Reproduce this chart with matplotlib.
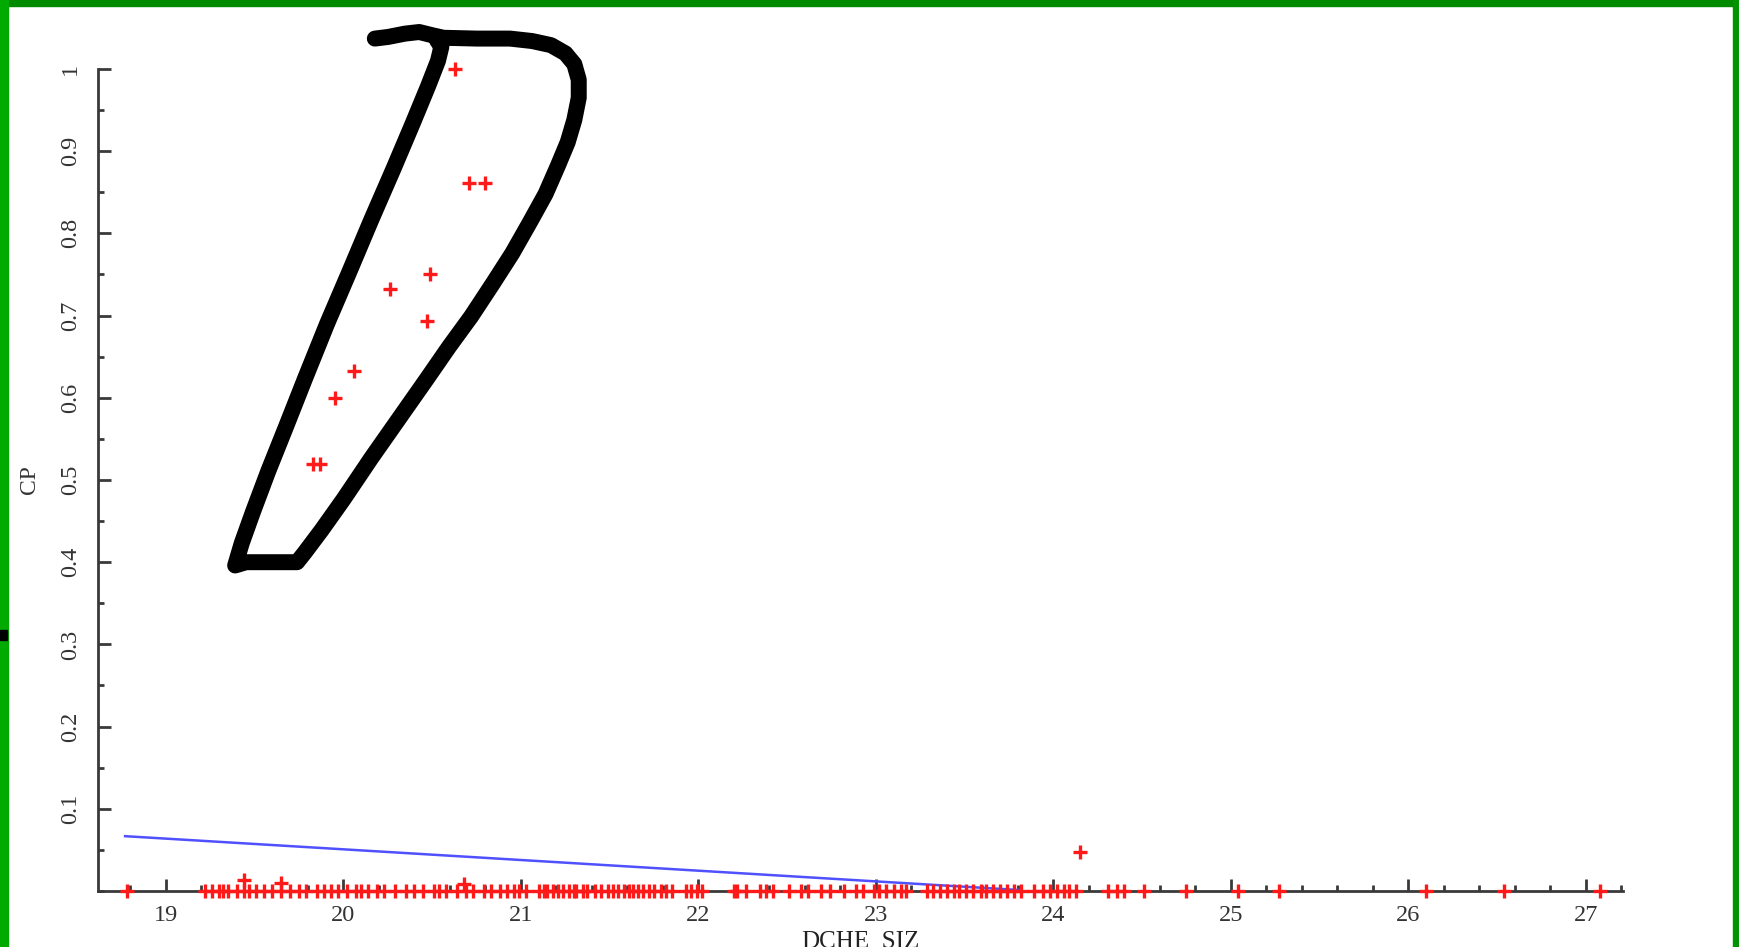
import matplotlib.pyplot as plt
from matplotlib.patches import Rectangle
from matplotlib.ticker import FixedLocator, MultipleLocator

# ---- data ----
# points sitting on CP = 0
zero_x = [18.78, 19.22, 19.26, 19.30, 19.32, 19.35, 19.40, 19.44, 19.47, 19.51,
          19.55, 19.60, 19.65, 19.70, 19.75, 19.79, 19.85, 19.89, 19.93, 19.97,
          20.02, 20.07, 20.10, 20.14, 20.19, 20.23, 20.29, 20.35, 20.40, 20.45,
          20.51, 20.54, 20.58, 20.64, 20.69, 20.73, 20.79, 20.83, 20.88, 20.92,
          20.96, 20.99, 21.03, 21.10, 21.13, 21.15, 21.18, 21.21, 21.24, 21.27,
          21.30, 21.31, 21.35, 21.37, 21.42, 21.45, 21.49, 21.52, 21.55, 21.58,
          21.61, 21.63, 21.66, 21.69, 21.72, 21.75, 21.79, 21.82, 21.85, 21.93,
          21.96, 21.99, 22.02, 22.20, 22.22, 22.27, 22.35, 22.38, 22.42, 22.51,
          22.58, 22.62, 22.69, 22.74, 22.82, 22.89, 22.93, 22.99, 23.02, 23.06,
          23.10, 23.14, 23.17, 23.29, 23.32, 23.36, 23.40, 23.44, 23.47, 23.51,
          23.55, 23.59, 23.62, 23.66, 23.70, 23.74, 23.78, 23.82, 23.89, 23.94,
          23.98, 24.02, 24.06, 24.09, 24.13, 24.31, 24.36, 24.40, 24.51, 24.75,
          25.04, 25.27, 26.10, 26.54, 27.08]
zero_y = [0.0] * len(zero_x)

# points above zero
hi_x = [20.63, 20.71, 20.80, 20.49, 20.26, 20.47, 20.06, 19.95, 19.83, 19.87,
        24.15, 19.44, 19.65, 20.68]
hi_y = [1.0, 0.861, 0.861, 0.751, 0.732, 0.694, 0.632, 0.600, 0.520, 0.520,
        0.048, 0.013, 0.010, 0.008]

# fitted (blue) line
fit_x = [18.77, 23.80]
fit_y = [0.0667, 0.0013]

# hand drawn loop around the high points (data coords)
loop_x = [20.177, 20.252, 20.346, 20.427, 20.502, 20.564, 20.752, 20.939, 21.064,
          21.170, 21.251, 21.301, 21.326, 21.326, 21.301, 21.264, 21.208, 21.139,
          21.052, 20.952, 20.845, 20.720, 20.595, 20.470, 20.314, 20.158, 20.002,
          19.877, 19.783, 19.739, 19.596, 19.452, 19.390, 19.427, 19.490, 19.577,
          19.677, 19.783, 19.908, 20.033, 20.158, 20.283, 20.389, 20.477, 20.533,
          20.552, 20.527]
loop_y = [1.037, 1.039, 1.043, 1.045, 1.041, 1.038, 1.037, 1.037, 1.034,
          1.029, 1.019, 1.006, 0.987, 0.965, 0.938, 0.911, 0.882, 0.848,
          0.814, 0.776, 0.740, 0.699, 0.662, 0.623, 0.575, 0.527, 0.477,
          0.439, 0.412, 0.400, 0.400, 0.400, 0.396, 0.423, 0.461, 0.511,
          0.565, 0.623, 0.690, 0.753, 0.817, 0.879, 0.933, 0.979, 1.010,
          1.027, 1.035]

x_major = [19, 20, 21, 22, 23, 24, 25, 26, 27]
y_major = [0.1, 0.2, 0.3, 0.4, 0.5, 0.6, 0.7, 0.8, 0.9, 1.0]
y_labels = ["0.1", "0.2", "0.3", "0.4", "0.5", "0.6", "0.7", "0.8", "0.9", "1"]

plt.rcParams['font.family'] = ['Liberation Serif', 'DejaVu Serif']

W, H = 1739, 947
fig = plt.figure(figsize=(W / 100, H / 100), dpi=100)
fig.patch.set_facecolor('white')

ax = fig.add_axes([97.6 / W, 56 / H, (1623 - 97.6) / W, 822 / H])
ax.set_xlim(18.615, 27.21)
ax.set_ylim(0, 1)

axis_col = '#3a3a3a'
for side in ['top', 'right']:
    ax.spines[side].set_visible(False)
for side in ['left', 'bottom']:
    ax.spines[side].set_color(axis_col)
    ax.spines[side].set_linewidth(2.0)

ax.xaxis.set_major_locator(FixedLocator(x_major))
ax.xaxis.set_minor_locator(MultipleLocator(0.2))
ax.yaxis.set_major_locator(FixedLocator(y_major))
ax.yaxis.set_minor_locator(MultipleLocator(0.05))
ax.set_yticklabels(y_labels, rotation=90, va='center')

ax.tick_params(which='major', direction='in', length=9, width=2, color=axis_col,
               labelsize=17.5, labelcolor='#333333')
ax.tick_params(which='minor', direction='in', length=4, width=2, color=axis_col)
ax.tick_params(axis='x', pad=10)
ax.tick_params(axis='y', pad=12)

ax.plot(fit_x, fit_y, color='#5050ff', linewidth=1.8, zorder=3)

ax.plot(zero_x, zero_y, linestyle='none', marker='+', markersize=10,
        markeredgewidth=2.4, color='#ff1a1a', clip_on=False, zorder=5)
ax.plot(hi_x, hi_y, linestyle='none', marker='+', markersize=10,
        markeredgewidth=2.4, color='#ff1a1a', clip_on=False, zorder=5)

ax.plot(loop_x, loop_y, color='black', linewidth=11.5, solid_capstyle='round',
        solid_joinstyle='round', clip_on=False, zorder=4)

ax.set_xlabel('DCHE_SIZ', fontsize=18, color='#222222', labelpad=3)
ax.set_ylabel('CP', fontsize=17, color='#333333', labelpad=14)

# green frame around the screenshot
fig.patches.append(Rectangle((0, 1 - 6 / H), 1, 6 / H, transform=fig.transFigure,
                             color='#008a00', zorder=10))
fig.patches.append(Rectangle((0, 0), 8 / W, 1, transform=fig.transFigure,
                             color='#00aa00', zorder=10))
fig.patches.append(Rectangle((1 - 6 / W, 0), 6 / W, 1, transform=fig.transFigure,
                             color='#009400', zorder=10))
fig.patches.append(Rectangle((0, 1 - 640 / H), 7 / W, 10 / H, transform=fig.transFigure,
                             color='black', zorder=11))

fig.savefig('out.png', dpi=100)
